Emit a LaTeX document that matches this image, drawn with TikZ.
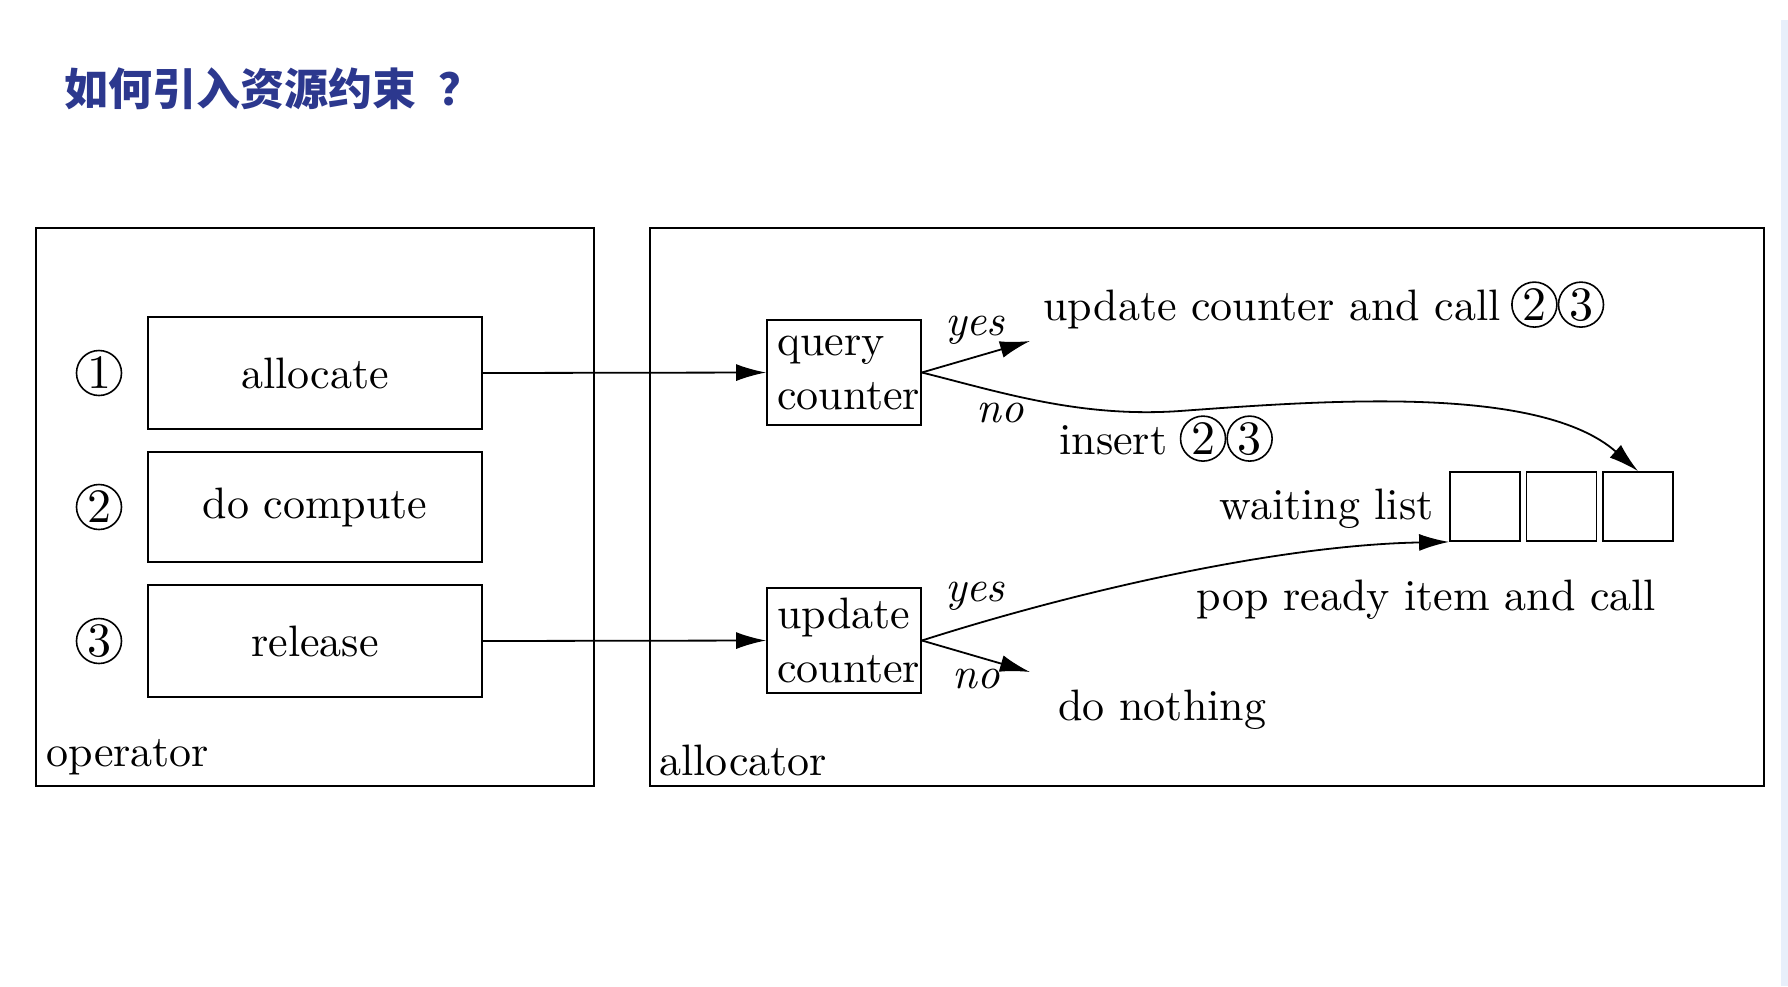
\documentclass[tikz,border=0pt]{standalone}
\usepackage{fontspec}
\setmainfont{lmroman10-regular}[Extension=.otf, ItalicFont=lmroman10-italic, BoldFont=lmroman10-bold]
\newfontfamily\cjk{Noto Sans CJK SC}
\usetikzlibrary{arrows.meta,positioning,calc}
\definecolor{titleblue}{RGB}{44,56,142}
\definecolor{edgeblue}{RGB}{232,239,250}
\begin{document}
\begin{tikzpicture}[x=0.5pt,y=-0.5pt,
  txt/.style={font=\fontsize{22}{27}\selectfont, inner sep=0pt},
  box/.style={draw, line width=0.9pt, inner sep=0pt},
  panel/.style={draw, line width=0.9pt, minimum width=279pt, minimum height=279pt, inner sep=0pt},
  cnum/.style={draw, circle, line width=0.8pt, minimum size=22.5pt, inner sep=0pt, font=\fontsize{24}{24}\selectfont},
  arr/.style={line width=0.9pt, -{Latex[length=15pt,width=8.5pt]}},
  lbl/.style={font=\fontsize{22}{27}\selectfont\itshape, inner sep=0pt},
  wbox/.style={draw, line width=0.9pt, minimum width=35pt, minimum height=34.5pt, inner sep=0pt}
]
\useasboundingbox (0,0) rectangle (1788,986);
\fill[edgeblue] (1781,20) rectangle (1788,986);
\node[font=\cjk\bfseries\fontsize{22}{26}\selectfont, text=titleblue, anchor=west, inner sep=0pt] (title) at (64,89) {如何引入资源约束\hspace{11pt}？};

% panels
\node[panel] (op) at (315,507) {};
\node[panel, minimum width=557pt] (al) at (1207,507) {};
\node[txt, anchor=base west] (oplbl) at (46,766) {operator};
\node[txt, anchor=base west] (allbl) at (659,775) {allocator};

% operator steps
\node[box, txt, minimum width=167pt, minimum height=56pt] (alloc) at (315,373) {allocate};
\node[box, txt, minimum width=167pt, minimum height=55pt] (comp) at (315,507) {do compute};
\node[box, txt, minimum width=167pt, minimum height=56pt] (rel) at (315,641) {release};
\node[cnum] (n1) at (99,373) {1};
\node[cnum] (n2) at (99,507) {2};
\node[cnum] (n3) at (99,641) {3};

% allocator boxes
\node[box, txt, minimum width=77pt, minimum height=52.5pt, text width=67pt, align=left, inner xsep=5pt] (query) at (844,372.5) {query\\counter};
\node[box, txt, minimum width=77pt, minimum height=52.5pt, text width=67pt, align=left, inner xsep=5pt] (upd) at (844,640.5) {update\\counter};

% waiting list
\node[wbox] (b1) at (1485,506.5) {};
\node[wbox] (b2) at (1561.5,506.5) {};
\node[wbox] (b3) at (1638,506.5) {};

% arrows
\draw[arr] (alloc.east) -- (query.west);
\draw[arr] (rel.east) -- (upd.west);
\coordinate (yt) at (1030,341);
\draw[arr] (query.east) -- (yt);
\draw[arr] (query.east) .. controls (1000,392) and (1080,418) .. (1180,411) .. controls (1330,400) and (1540,385) .. (b3.north);
\coordinate (nb) at (1030,672);
\draw[arr] (upd.east) -- (nb);
\draw[arr] (upd.east) .. controls (1080,590) and (1280,545) .. (b1.south west);

% labels
\node[lbl] (yes1) at (975,330) {yes};
\node[lbl] (no1) at (1000,413) {no};
\node[lbl] (yes2) at (975,596) {yes};
\node[lbl] (no2) at (976,679) {no};

% texts
\node[txt, anchor=base west] (t1) at (1043,320) {update counter and call};
\node[cnum, anchor=west, xshift=5pt, yshift=7.7pt] (t1a) at (t1.base east) {2};
\node[cnum, anchor=west] (t1b) at (t1a.east) {3};
\node[txt, anchor=base west] (t2) at (1059,454) {insert};
\node[cnum, anchor=west, xshift=6pt, yshift=7.7pt] (t2a) at (t2.base east) {2};
\node[cnum, anchor=west] (t2b) at (t2a.east) {3};
\node[txt, anchor=base east] (t3) at (1434,519) {waiting list};
\node[txt, anchor=base west] (t4) at (1196,610) {pop ready item and call};
\node[txt, anchor=base west] (t5) at (1058,720) {do nothing};
\end{tikzpicture}
\end{document}
